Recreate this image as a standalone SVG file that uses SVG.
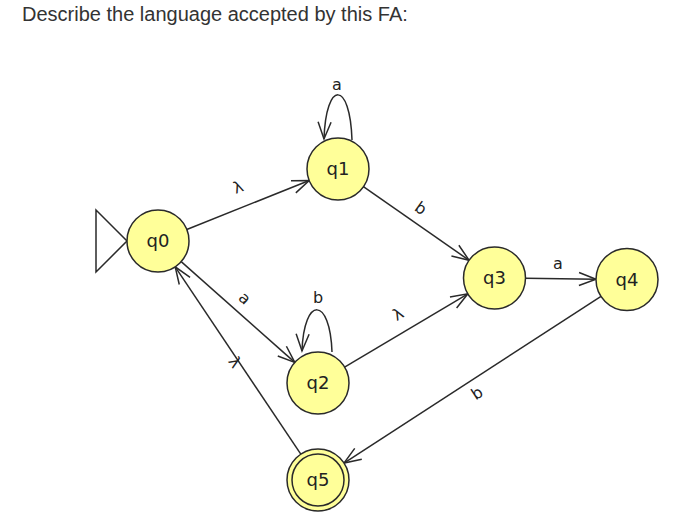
<svg xmlns="http://www.w3.org/2000/svg" width="693" height="522" viewBox="0 0 693 522">
<style>
.title{font-family:"Liberation Sans",Arial,sans-serif;font-size:20px;fill:#333}
.st circle{fill:#ffff99;stroke:#2a2a2a;stroke-width:1.5}
.st text{font-family:"DejaVu Sans",sans-serif;font-size:18px;fill:#222;text-anchor:middle}
.edge{fill:none;stroke:#2a2a2a;stroke-width:1.5;marker-end:url(#arr)}
.lbl{font-family:"DejaVu Sans",sans-serif;font-size:16px;fill:#222;text-anchor:middle}
</style>
<defs>
<marker id="arr" markerUnits="userSpaceOnUse" markerWidth="24" markerHeight="16" refX="0" refY="0" viewBox="-18 -8 20 16" orient="auto" overflow="visible">
<path d="M-17,-6.5 L0,0 L-17,6.5" fill="none" stroke="#2a2a2a" stroke-width="1.5"/>
</marker>
</defs>
<rect width="693" height="522" fill="#fff"/>
<text class="title" x="22" y="21">Describe the language accepted by this FA:</text>
<g id="connectors">
<path class="edge" d="M186.8,229.5 L309.2,180.5"/>
<path class="edge" d="M352,140 C350,80 326,80 324,139"/>
<path class="edge" d="M363.4,186.7 L469.1,260.3"/>
<path class="edge" d="M525.5,278.3 L596,279.2"/>
<path class="edge" d="M181.2,261.6 L294.8,362.4"/>
<path class="edge" d="M332,352 C330,296 304,296 302,351"/>
<path class="edge" d="M344.6,367.2 L467.9,293.8"/>
<path class="edge" d="M601,296.4 L344,463.1"/>
<path class="edge" d="M300.8,454.2 L175.2,266.8"/>
<text class="lbl" transform="translate(238,187) rotate(-22)" dy="0.35em">λ</text>
<text class="lbl" x="337" y="90">a</text>
<text class="lbl" transform="translate(421,208) rotate(35)" dy="0.35em">b</text>
<text class="lbl" x="558" y="269">a</text>
<text class="lbl" transform="translate(245,298) rotate(42)" dy="0.35em">a</text>
<text class="lbl" x="318" y="303">b</text>
<text class="lbl" transform="translate(398,314) rotate(-31)" dy="0.35em">λ</text>
<text class="lbl" transform="translate(477,393) rotate(-33)" dy="0.35em">b</text>
<text class="lbl" transform="translate(235,362) rotate(56)" dy="0.35em">λ</text>
</g>
<path id="start" d="M96,210 L96,272 L127,241 Z" fill="none" stroke="#2a2a2a" stroke-width="1.5"/>
<g id="q0" class="st"><circle cx="158" cy="241" r="31"/><text x="158" y="247">q0</text></g>
<g id="q1" class="st"><circle cx="338" cy="169" r="31"/><text x="338" y="175">q1</text></g>
<g id="q2" class="st"><circle cx="318" cy="383" r="31"/><text x="318" y="389">q2</text></g>
<g id="q3" class="st"><circle cx="494.5" cy="278" r="31"/><text x="494.5" y="284">q3</text></g>
<g id="q4" class="st"><circle cx="627" cy="279.5" r="31"/><text x="627" y="285.5">q4</text></g>
<g id="q5" class="st"><circle cx="318" cy="480" r="31"/><circle cx="318" cy="480" r="26"/><text x="318" y="486">q5</text></g>
</svg>
